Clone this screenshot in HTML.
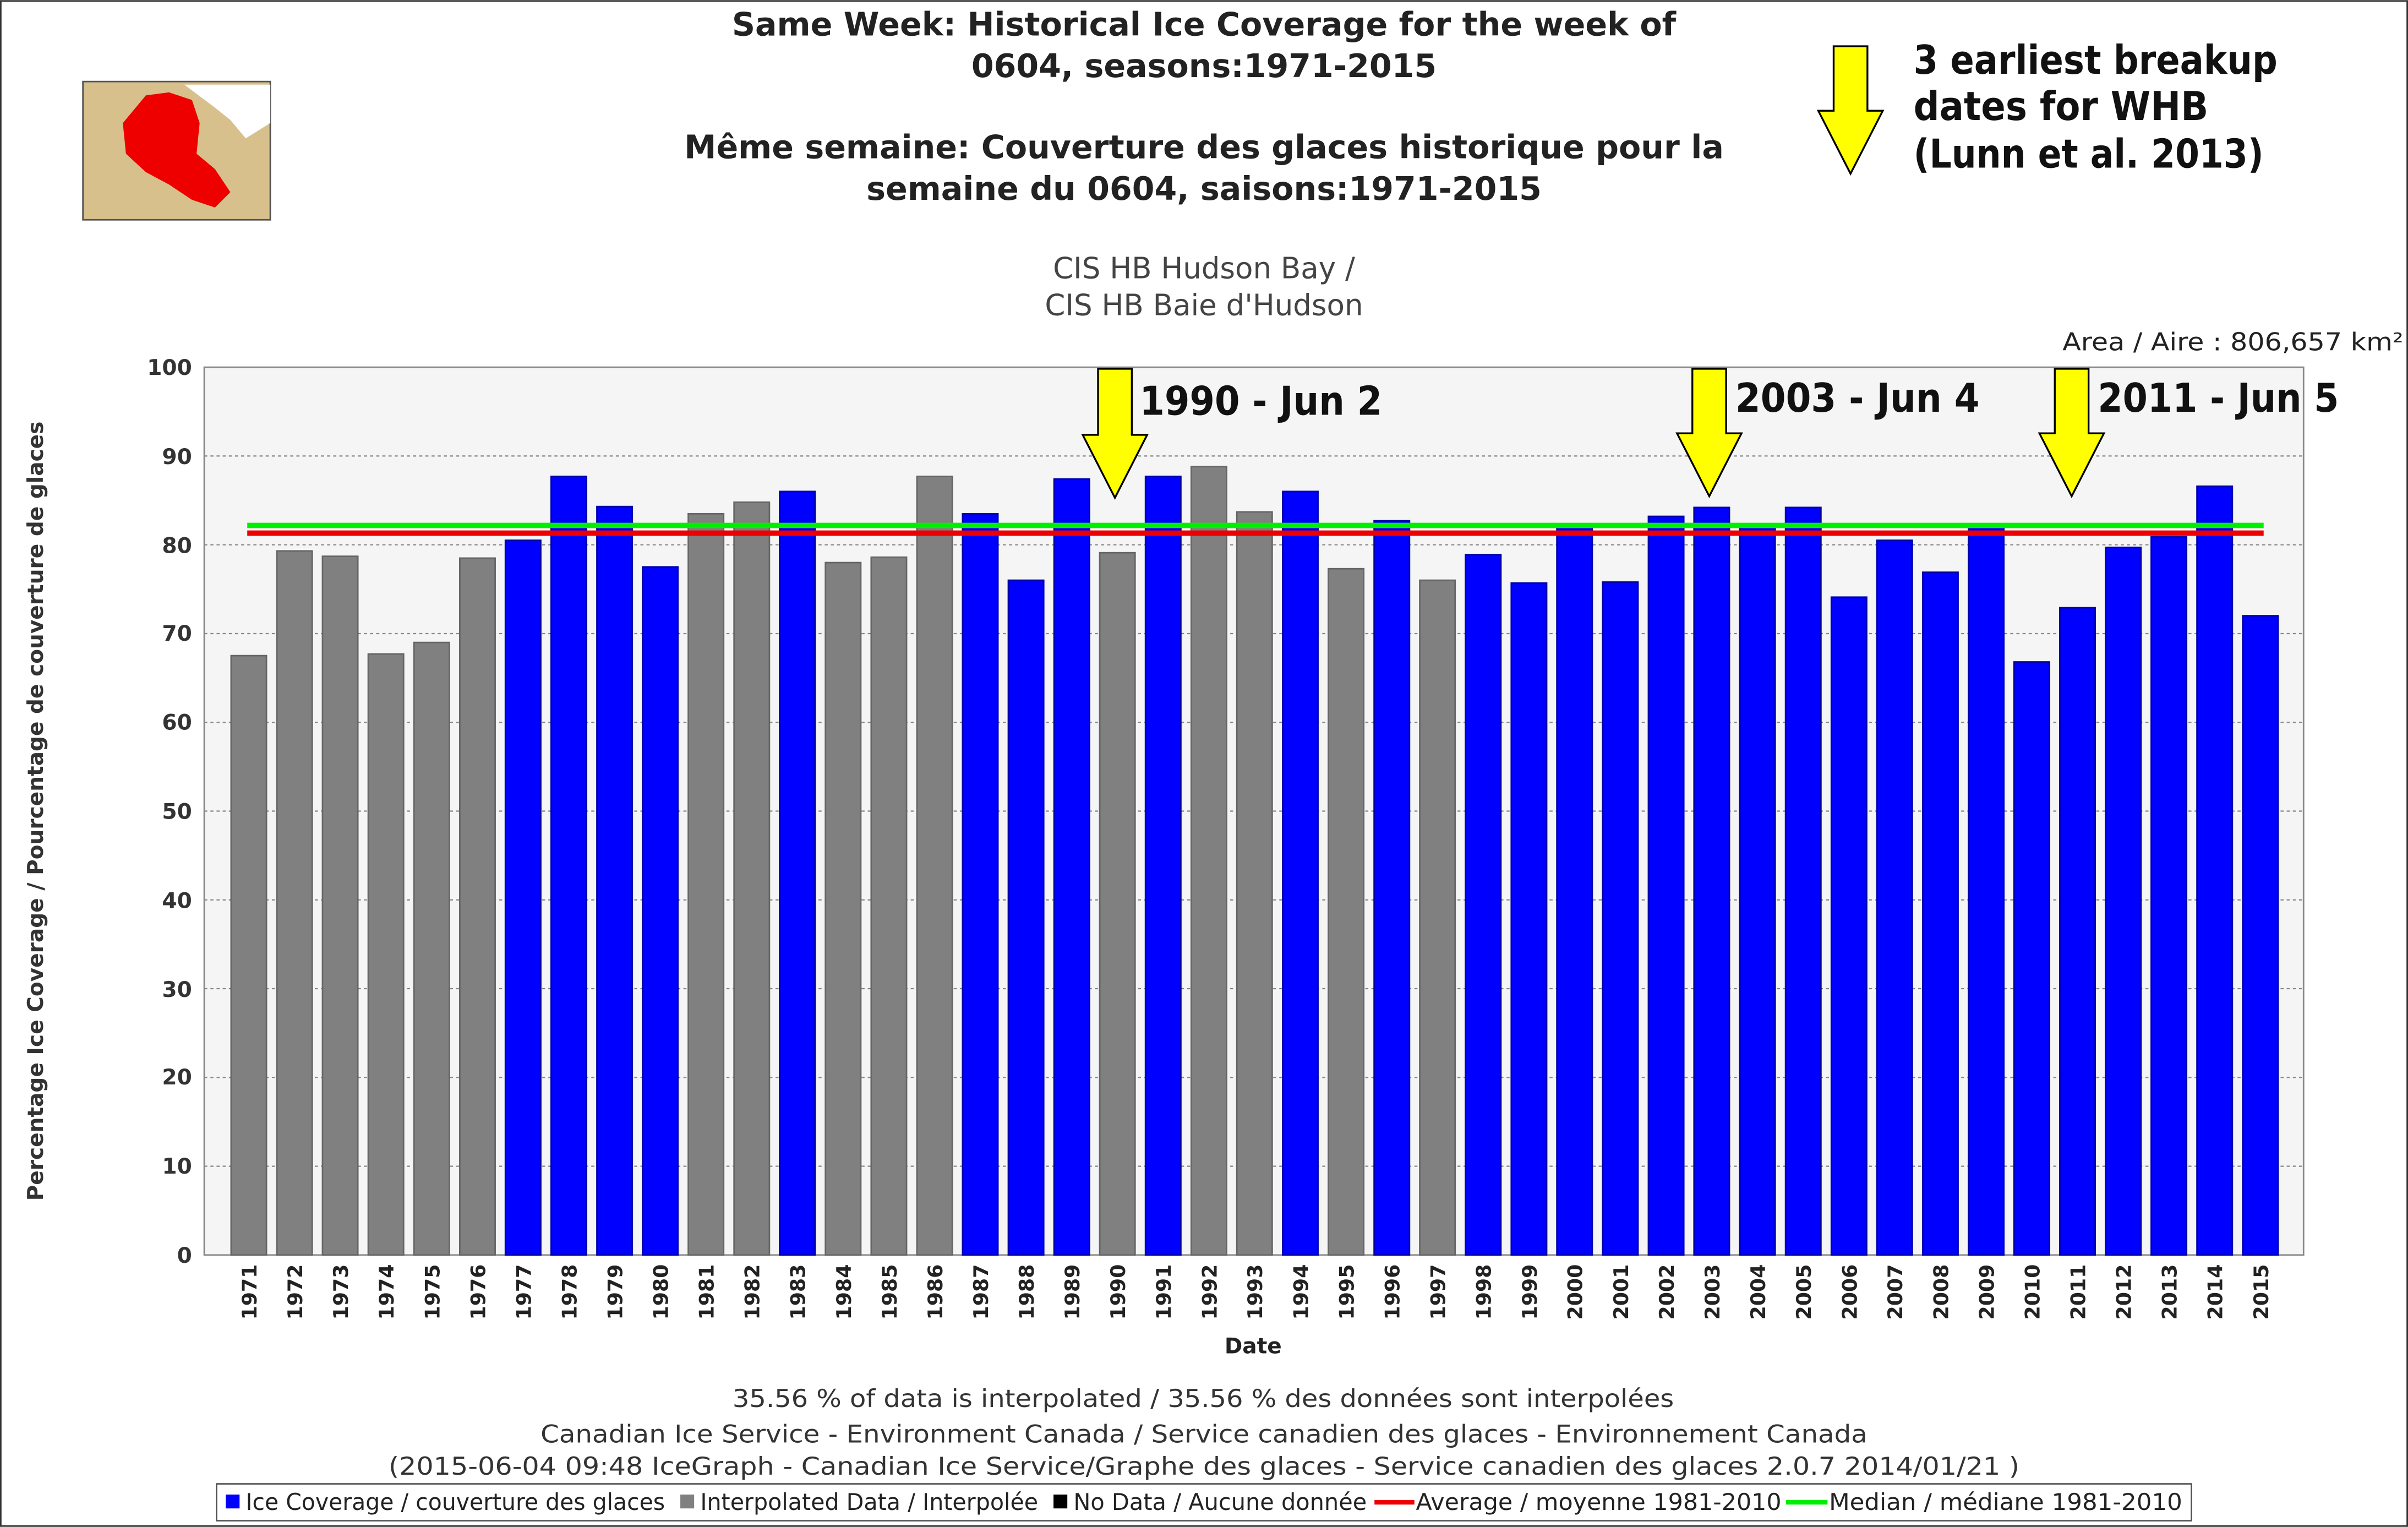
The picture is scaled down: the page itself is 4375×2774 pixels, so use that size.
<!DOCTYPE html>
<html><head><meta charset="utf-8"><style>
html,body{margin:0;padding:0;background:#fff}
svg{display:block}
text{font-family:"DejaVu Sans","Liberation Sans",sans-serif}
</style></head><body>
<svg width="4375" height="2774" viewBox="0 0 1568 994" xmlns="http://www.w3.org/2000/svg">
<rect x="0.5" y="0.5" width="1567" height="993" fill="#fff" stroke="#333" stroke-width="1"/>
<!-- map icon -->
<rect x="54" y="53" width="122" height="90" fill="#d8c08c" stroke="#555"/>
<path d="M120 55 L176 55 L176 80 L160 90 L150 78 L140 70 Z" fill="#fff"/>
<path d="M80 80 L95 62 L110 60 L125 65 L130 80 L128 100 L140 110 L150 125 L140 135 L125 130 L110 120 L95 112 L82 100 Z" fill="#ee0000"/>
<!-- titles -->
<g font-weight="bold" font-size="21" text-anchor="middle" fill="#222">
<text x="784" y="23">Same Week: Historical Ice Coverage for the week of</text>
<text x="784" y="50">0604, seasons:1971-2015</text>
<text x="784" y="103">Même semaine: Couverture des glaces historique pour la</text>
<text x="784" y="130">semaine du 0604, saisons:1971-2015</text>
</g>
<g font-size="19" text-anchor="middle" fill="#444">
<text x="784" y="181">CIS HB Hudson Bay /</text>
<text x="784" y="205">CIS HB Baie d'Hudson</text>
</g>
<text x="1343" y="228" font-size="16" fill="#222" textLength="222" lengthAdjust="spacingAndGlyphs">Area / Aire : 806,657 km²</text>
<g font-weight="bold" font-size="26" fill="#111">
<text x="1246" y="48" textLength="237" lengthAdjust="spacingAndGlyphs">3 earliest breakup</text>
<text x="1246" y="78" textLength="192" lengthAdjust="spacingAndGlyphs">dates for WHB</text>
<text x="1246" y="109" textLength="228" lengthAdjust="spacingAndGlyphs">(Lunn et al. 2013)</text>
</g>
<!-- plot area -->
<rect x="133" y="239" width="1367" height="578" fill="#f5f5f5" stroke="#888"/>
<g stroke="#888" stroke-dasharray="2,2" stroke-width="0.8">
<line x1="133" x2="1500" y1="296.8" y2="296.8"/><line x1="133" x2="1500" y1="354.6" y2="354.6"/>
<line x1="133" x2="1500" y1="412.4" y2="412.4"/><line x1="133" x2="1500" y1="470.2" y2="470.2"/>
<line x1="133" x2="1500" y1="528" y2="528"/><line x1="133" x2="1500" y1="585.8" y2="585.8"/>
<line x1="133" x2="1500" y1="643.6" y2="643.6"/><line x1="133" x2="1500" y1="701.4" y2="701.4"/>
<line x1="133" x2="1500" y1="759.2" y2="759.2"/>
</g>
<g font-size="14" font-weight="bold" text-anchor="end" fill="#333">
<text x="125" y="244">100</text><text x="125" y="302">90</text><text x="125" y="360">80</text>
<text x="125" y="417">70</text><text x="125" y="475">60</text><text x="125" y="533">50</text>
<text x="125" y="591">40</text><text x="125" y="649">30</text><text x="125" y="706">20</text>
<text x="125" y="764">10</text><text x="125" y="822">0</text>
</g>
<text transform="translate(28,528) rotate(-90)" font-size="14" font-weight="bold" text-anchor="middle" fill="#333">Percentage Ice Coverage / Pourcentage de couverture de glaces</text>
<g stroke-width="1">
<g fill="#808080" stroke="#666">
<rect x="150.5" y="426.8" width="23" height="390.2"/>
<rect x="180.3" y="358.6" width="23" height="458.4"/>
<rect x="210.0" y="362.1" width="23" height="454.9"/>
<rect x="239.8" y="425.7" width="23" height="391.3"/>
<rect x="269.6" y="418.2" width="23" height="398.8"/>
<rect x="299.4" y="363.3" width="23" height="453.7"/>
<rect x="448.2" y="334.4" width="23" height="482.6"/>
<rect x="478.0" y="326.9" width="23" height="490.1"/>
<rect x="537.5" y="366.2" width="23" height="450.8"/>
<rect x="567.3" y="362.7" width="23" height="454.3"/>
<rect x="597.1" y="310.1" width="23" height="506.9"/>
<rect x="716.1" y="359.8" width="23" height="457.2"/>
<rect x="775.7" y="303.7" width="23" height="513.3"/>
<rect x="805.4" y="333.2" width="23" height="483.8"/>
<rect x="865.0" y="370.2" width="23" height="446.8"/>
<rect x="924.5" y="377.7" width="23" height="439.3"/>
</g>
<g fill="#0000ff" stroke="#0000aa">
<rect x="329.1" y="351.7" width="23" height="465.3"/>
<rect x="358.9" y="310.1" width="23" height="506.9"/>
<rect x="388.7" y="329.7" width="23" height="487.3"/>
<rect x="418.4" y="369" width="23" height="448"/>
<rect x="507.7" y="319.9" width="23" height="497.1"/>
<rect x="626.8" y="334.4" width="23" height="482.6"/>
<rect x="656.6" y="377.7" width="23" height="439.3"/>
<rect x="686.4" y="311.8" width="23" height="505.2"/>
<rect x="745.9" y="310.1" width="23" height="506.9"/>
<rect x="835.2" y="319.9" width="23" height="497.1"/>
<rect x="894.8" y="339" width="23" height="478"/>
<rect x="954.3" y="361" width="23" height="456"/>
<rect x="984.1" y="379.5" width="23" height="437.5"/>
<rect x="1013.8" y="343" width="23" height="474"/>
<rect x="1043.6" y="378.9" width="23" height="438.1"/>
<rect x="1073.4" y="336.1" width="23" height="480.9"/>
<rect x="1103.1" y="330.3" width="23" height="486.7"/>
<rect x="1132.9" y="343" width="23" height="474"/>
<rect x="1162.7" y="330.3" width="23" height="486.7"/>
<rect x="1192.5" y="388.7" width="23" height="428.3"/>
<rect x="1222.2" y="351.7" width="23" height="465.3"/>
<rect x="1252.0" y="372.5" width="23" height="444.5"/>
<rect x="1281.8" y="343" width="23" height="474"/>
<rect x="1311.5" y="430.9" width="23" height="386.1"/>
<rect x="1341.3" y="395.6" width="23" height="421.4"/>
<rect x="1371.1" y="356.3" width="23" height="460.7"/>
<rect x="1400.8" y="349.4" width="23" height="467.6"/>
<rect x="1430.6" y="316.5" width="23" height="500.5"/>
<rect x="1460.4" y="400.8" width="23" height="416.2"/>
</g>
</g>
<line x1="161" x2="1474" y1="342" y2="342" stroke="#00ee00" stroke-width="3.5"/>
<line x1="161" x2="1474" y1="347" y2="347" stroke="#ee0000" stroke-width="3.5"/>
<!-- year labels -->
<g font-size="13" font-weight="bold" fill="#222" text-anchor="end">
<text transform="translate(167,823) rotate(-90)">1971</text>
<text transform="translate(196.8,823) rotate(-90)">1972</text>
<text transform="translate(226.5,823) rotate(-90)">1973</text>
<text transform="translate(256.3,823) rotate(-90)">1974</text>
<text transform="translate(286.1,823) rotate(-90)">1975</text>
<text transform="translate(315.9,823) rotate(-90)">1976</text>
<text transform="translate(345.6,823) rotate(-90)">1977</text>
<text transform="translate(375.4,823) rotate(-90)">1978</text>
<text transform="translate(405.2,823) rotate(-90)">1979</text>
<text transform="translate(434.9,823) rotate(-90)">1980</text>
<text transform="translate(464.7,823) rotate(-90)">1981</text>
<text transform="translate(494.5,823) rotate(-90)">1982</text>
<text transform="translate(524.2,823) rotate(-90)">1983</text>
<text transform="translate(554,823) rotate(-90)">1984</text>
<text transform="translate(583.8,823) rotate(-90)">1985</text>
<text transform="translate(613.6,823) rotate(-90)">1986</text>
<text transform="translate(643.3,823) rotate(-90)">1987</text>
<text transform="translate(673.1,823) rotate(-90)">1988</text>
<text transform="translate(702.9,823) rotate(-90)">1989</text>
<text transform="translate(732.6,823) rotate(-90)">1990</text>
<text transform="translate(762.4,823) rotate(-90)">1991</text>
<text transform="translate(792.2,823) rotate(-90)">1992</text>
<text transform="translate(821.9,823) rotate(-90)">1993</text>
<text transform="translate(851.7,823) rotate(-90)">1994</text>
<text transform="translate(881.5,823) rotate(-90)">1995</text>
<text transform="translate(911.3,823) rotate(-90)">1996</text>
<text transform="translate(941,823) rotate(-90)">1997</text>
<text transform="translate(970.8,823) rotate(-90)">1998</text>
<text transform="translate(1000.6,823) rotate(-90)">1999</text>
<text transform="translate(1030.3,823) rotate(-90)">2000</text>
<text transform="translate(1060.1,823) rotate(-90)">2001</text>
<text transform="translate(1089.9,823) rotate(-90)">2002</text>
<text transform="translate(1119.6,823) rotate(-90)">2003</text>
<text transform="translate(1149.4,823) rotate(-90)">2004</text>
<text transform="translate(1179.2,823) rotate(-90)">2005</text>
<text transform="translate(1209,823) rotate(-90)">2006</text>
<text transform="translate(1238.7,823) rotate(-90)">2007</text>
<text transform="translate(1268.5,823) rotate(-90)">2008</text>
<text transform="translate(1298.3,823) rotate(-90)">2009</text>
<text transform="translate(1328,823) rotate(-90)">2010</text>
<text transform="translate(1357.8,823) rotate(-90)">2011</text>
<text transform="translate(1387.6,823) rotate(-90)">2012</text>
<text transform="translate(1417.3,823) rotate(-90)">2013</text>
<text transform="translate(1447.1,823) rotate(-90)">2014</text>
<text transform="translate(1476.9,823) rotate(-90)">2015</text>
</g>
<text x="816" y="881" font-size="14" font-weight="bold" text-anchor="middle" fill="#222">Date</text>
<g font-size="16" fill="#333" lengthAdjust="spacingAndGlyphs">
<text x="477" y="916" textLength="613" lengthAdjust="spacingAndGlyphs">35.56 % of data is interpolated / 35.56 % des données sont interpolées</text>
<text x="352" y="939" textLength="864" lengthAdjust="spacingAndGlyphs">Canadian Ice Service - Environment Canada / Service canadien des glaces - Environnement Canada</text>
<text x="253" y="960" textLength="1062" lengthAdjust="spacingAndGlyphs">(2015-06-04 09:48 IceGraph - Canadian Ice Service/Graphe des glaces - Service canadien des glaces 2.0.7 2014/01/21 )</text>
</g>
<!-- legend -->
<rect x="141" y="966" width="1286" height="24" fill="#fff" stroke="#555"/>
<g font-size="15" fill="#222">
<rect x="147" y="973" width="9" height="9" fill="#0000ff"/><text x="160" y="983" textLength="273" lengthAdjust="spacingAndGlyphs">Ice Coverage / couverture des glaces</text>
<rect x="443" y="973" width="9" height="9" fill="#808080"/><text x="456" y="983" textLength="220" lengthAdjust="spacingAndGlyphs">Interpolated Data / Interpolée</text>
<rect x="686" y="973" width="9" height="9" fill="#000"/><text x="699" y="983" textLength="191" lengthAdjust="spacingAndGlyphs">No Data / Aucune donnée</text>
<line x1="895" x2="921" y1="978" y2="978" stroke="#ee0000" stroke-width="3"/><text x="922" y="983" textLength="238" lengthAdjust="spacingAndGlyphs">Average / moyenne 1981-2010</text>
<line x1="1163" x2="1190" y1="978" y2="978" stroke="#00ee00" stroke-width="3"/><text x="1191" y="983" textLength="230" lengthAdjust="spacingAndGlyphs">Median / médiane 1981-2010</text>
</g>
<!-- arrows -->
<g fill="#ffff00" stroke="#000" stroke-width="1.2">
<path d="M1194 30 L1216 30 L1216 72 L1226 72 L1205 113 L1184 72 L1194 72 Z"/>
<path d="M715 240 L737 240 L737 283 L747 283 L726 324 L705 283 L715 283 Z"/>
<path d="M1102 240 L1124 240 L1124 282 L1134 282 L1113 323 L1092 282 L1102 282 Z"/>
<path d="M1338 240 L1360 240 L1360 282 L1370 282 L1349 323 L1328 282 L1338 282 Z"/>
</g>
<g font-weight="bold" font-size="26" fill="#111">
<text x="742" y="270" textLength="158" lengthAdjust="spacingAndGlyphs">1990 - Jun 2</text>
<text x="1130" y="268" textLength="159" lengthAdjust="spacingAndGlyphs">2003 - Jun 4</text>
<text x="1366" y="268" textLength="157" lengthAdjust="spacingAndGlyphs">2011 - Jun 5</text>
</g>
</svg>
</body></html>
